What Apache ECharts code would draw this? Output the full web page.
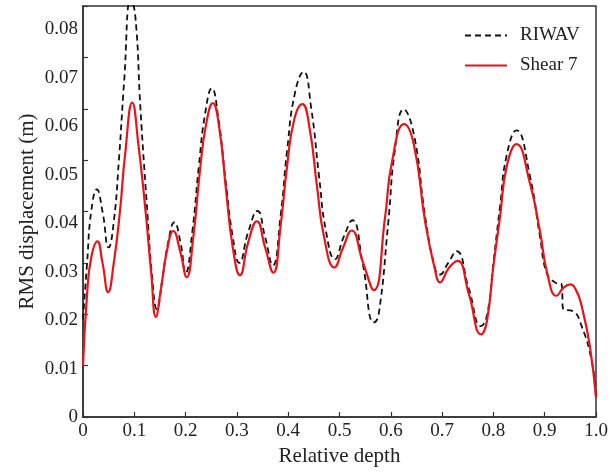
<!DOCTYPE html>
<html>
<head>
<meta charset="utf-8">
<script src="https://cdn.jsdelivr.net/npm/echarts@6/dist/echarts.min.js"></script>
<style>html,body{margin:0;padding:0;background:#fff;}#c{width:612px;height:472px;}</style>
</head>
<body>
<div id="c"></div>
<script>
const xTickLabels = ['0','0.1','0.2','0.3','0.4','0.5','0.6','0.7','0.8','0.9','1.0'];
const yTickLabels = ['0','0.01','0.02','0.03','0.04','0.05','0.06','0.07','0.08'];

const depthShear = [0,0.008,0.016,0.028,0.038,0.049,0.06,0.072,0.082,0.096,0.108,0.122,0.133,0.142,0.152,0.163,0.176,0.19,0.202,0.215,0.228,0.24,0.253,0.266,0.279,0.292,0.306,0.322,0.339,0.355,0.371,0.385,0.398,0.412,0.4275,0.442,0.456,0.47,0.49,0.507,0.5235,0.546,0.567,0.589,0.602,0.626,0.645,0.667,0.686,0.696,0.713,0.73,0.752,0.776,0.787,0.80,0.813,0.826,0.845,0.871,0.891,0.905,0.923,0.937,0.95,0.962,0.972,0.988,1.0];
const shear7 =     [0.0099,0.024,0.031,0.0342,0.030,0.0243,0.030,0.040,0.051,0.0612,0.053,0.040,0.028,0.0195,0.025,0.032,0.0362,0.032,0.0272,0.035,0.048,0.057,0.0611,0.056,0.044,0.033,0.0276,0.034,0.0381,0.033,0.0281,0.037,0.049,0.058,0.0609,0.056,0.045,0.035,0.0291,0.033,0.0363,0.030,0.0247,0.039,0.0495,0.057,0.053,0.038,0.0287,0.0262,0.029,0.0304,0.024,0.0161,0.0185,0.0294,0.039,0.0488,0.0531,0.0456,0.036,0.028,0.0236,0.0252,0.0258,0.0245,0.0216,0.0138,0.0037];

const depthRiwav = [0,0.008,0.016,0.027,0.038,0.05,0.06,0.07,0.08,0.093,0.102,0.112,0.124,0.135,0.144,0.155,0.166,0.178,0.19,0.2,0.213,0.226,0.238,0.251,0.264,0.278,0.292,0.305,0.322,0.34,0.355,0.37,0.385,0.398,0.413,0.43,0.445,0.46,0.474,0.491,0.508,0.525,0.545,0.567,0.576,0.595,0.608,0.625,0.645,0.667,0.686,0.695,0.712,0.728,0.752,0.776,0.788,0.80,0.813,0.826,0.845,0.871,0.891,0.904,0.92,0.933,0.936,0.955,0.972,0.992,1.0];
const riwav =      [0.019,0.030,0.040,0.0443,0.040,0.033,0.038,0.050,0.065,0.0815,0.078,0.060,0.042,0.027,0.021,0.027,0.034,0.0379,0.034,0.028,0.036,0.049,0.059,0.064,0.058,0.046,0.035,0.030,0.036,0.0401,0.035,0.0295,0.039,0.052,0.063,0.0672,0.060,0.047,0.036,0.0307,0.035,0.0383,0.030,0.0184,0.0197,0.0378,0.052,0.0599,0.055,0.039,0.029,0.0277,0.030,0.0323,0.025,0.0177,0.020,0.030,0.041,0.051,0.0558,0.047,0.035,0.028,0.0262,0.0258,0.021,0.0206,0.0177,0.0107,0.0041];

const seriesNames = ['RIWAV','Shear 7'];

const FONT = "'Liberation Serif','Times New Roman',serif";
const chart = echarts.init(document.getElementById('c'), null, {renderer:'canvas'});
const pairs = (xs, ys) => xs.map((x,i)=>[x, ys[i]]);

chart.setOption({
  animation:false,
  backgroundColor:'#fff',
  textStyle:{fontFamily:FONT},
  grid:{left:83,right:16,top:6,bottom:54,show:true,borderColor:'#333',borderWidth:1.5,backgroundColor:'transparent'},
  legend:{
    orient:'vertical', left:459, top:21, itemWidth:42, itemHeight:12, itemGap:11,
    itemStyle:{opacity:0},
    textStyle:{fontFamily:FONT,fontSize:19,color:'#222',padding:[0,0,0,8]},
    data:seriesNames
  },
  xAxis:{
    type:'value', min:0, max:1, interval:0.1,
    name:'Relative depth', nameLocation:'middle', nameGap:29,
    nameTextStyle:{fontFamily:FONT,fontSize:21,color:'#222'},
    axisLine:{lineStyle:{color:'#333',width:1.5}},
    axisTick:{inside:true,length:5,lineStyle:{color:'#333',width:1.2}},
    axisLabel:{fontFamily:FONT,fontSize:19,color:'#222',margin:5,
      formatter:v=>xTickLabels[Math.round(v*10)]},
    splitLine:{show:false}
  },
  yAxis:[{
    type:'value', min:0, max:0.08, interval:0.01,
    name:'RMS displacement (m)', nameLocation:'middle', nameGap:45,
    nameTextStyle:{fontFamily:FONT,fontSize:21,color:'#222'},
    axisLine:{show:true,lineStyle:{color:'#333',width:1.5}},
    axisTick:{inside:true,length:5,lineStyle:{color:'#333',width:1.2}},
    axisLabel:{show:false},
    splitLine:{show:false}
  },{
    type:'value', min:0, max:8.477, interval:1, position:'left',
    axisLine:{show:false}, axisTick:{show:false}, splitLine:{show:false},
    axisLabel:{fontFamily:FONT,fontSize:19,color:'#222',margin:5,
      formatter:v=>Number.isInteger(v)?(yTickLabels[v]||''):''}
  }],
  series:[{
    name:seriesNames[0], type:'line', yAxisIndex:0, data:pairs(depthRiwav,riwav),
    smooth:0.5, showSymbol:false, symbol:'none', clip:true,
    lineStyle:{color:'#111',width:1.8,type:[6,4]}, itemStyle:{color:'#111'}
  },{
    name:seriesNames[1], type:'line', yAxisIndex:0, data:pairs(depthShear,shear7),
    smooth:0.5, showSymbol:false, symbol:'none', clip:true,
    lineStyle:{color:'#e3161d',width:2.2}, itemStyle:{color:'#e3161d'}
  }]
});
</script>
</body>
</html>
